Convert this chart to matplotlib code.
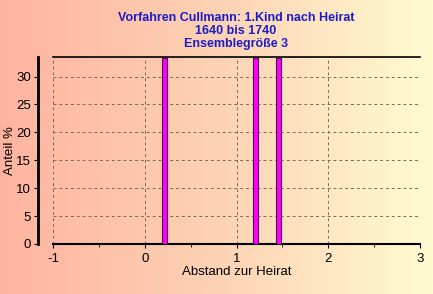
import numpy as np
import matplotlib
matplotlib.use("Agg")
import matplotlib.pyplot as plt
from matplotlib.colors import LinearSegmentedColormap

plt.rcParams['font.family'] = ['Liberation Sans', 'DejaVu Sans']
plt.rcParams['axes.unicode_minus'] = False

# data
abstand = [0.22, 1.21, 1.46]
anteil = [33.33, 33.33, 33.33]
xticks = [-1, 0, 1, 2, 3]
yticks = [0, 5, 10, 15, 20, 25, 30]
title = "Vorfahren Cullmann: 1.Kind nach Heirat\n1640 bis 1740\nEnsemblegröße 3"

fig = plt.figure(figsize=(4.33, 2.94), dpi=100)

# gradient background
bg = fig.add_axes([0, 0, 1, 1], zorder=-10)
cmap = LinearSegmentedColormap.from_list("bg", ["#FFB4A0", "#FDD2B4", "#FFFCD0"])
grad = np.linspace(0, 1, 256).reshape(1, -1)
bg.imshow(grad, aspect='auto', cmap=cmap, extent=[0, 1, 0, 1])
bg.axis('off')

ax = fig.add_axes([53/433, 50/294, (420-53)/433, (244-57)/294])
ax.patch.set_alpha(0)

ax.bar(abstand, anteil, width=0.055, color='#FF00FF', edgecolor='#500050', linewidth=0.8, zorder=3)

ax.set_xlim(-1, 3)
ax.set_ylim(0, 33.5)
ax.set_xticks(xticks)
ax.set_xticks(np.arange(-1, 3.01, 0.5), minor=True)
ax.set_yticks(yticks)
ax.tick_params(axis='both', labelsize=9.5, colors='black', length=3)
ax.tick_params(axis='x', which='minor', length=2)
ax.tick_params(axis='y', pad=2)

ax.grid(True, which='major', linestyle=(0, (3, 3)), color='#7A6A5A', linewidth=0.7)
ax.set_axisbelow(True)

ax.spines['left'].set_position(('outward', 11))
ax.spines['left'].set_linewidth(2)
ax.spines['right'].set_visible(False)
ax.spines['top'].set_linewidth(1.2)
ax.spines['bottom'].set_linewidth(1.5)

ax.set_xlabel("Abstand zur Heirat", fontsize=9.5, labelpad=1)
ax.set_ylabel("Anteil %", fontsize=9.5)
ax.yaxis.set_label_coords((16-53)/367, 0.5)

fig.text(236/433, 1 - 31/294, title, ha='center', va='center', fontsize=9,
         fontweight='bold', color='#1C1CC8', linespacing=1.12)

fig.savefig("out.png", dpi=100)
